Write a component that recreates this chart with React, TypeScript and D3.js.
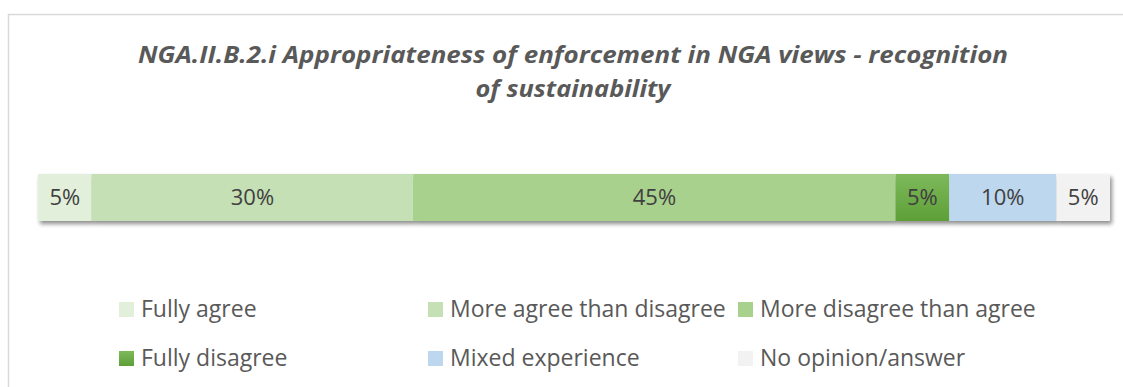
import React from "react";
import * as d3 from "d3";

const categories = [
  "Fully agree",
  "More agree than disagree",
  "More disagree than agree",
  "Fully disagree",
  "Mixed experience",
  "No opinion/answer",
];
const values = [5, 30, 45, 5, 10, 5];
const colors = ["#E2EFDA", "#C5E0B4", "#A9D18E", "url(#gradDark)", "#BDD7EE", "#F2F2F2"];
const titleLines = [
  "NGA.II.B.2.i Appropriateness of enforcement in NGA views - recognition",
  "of sustainability",
];
const titleWidths = [870, 195];

export default function App() {
  const W = 1123, H = 387;
  const x = d3.scaleLinear().domain([0, d3.sum(values)]).range([38, 1110]);
  const starts = values.map((_, i) => d3.sum(values.slice(0, i)));
  const barTop = 174, barH = 47;
  const legendCols = [119, 428, 738];
  const legendRows = [302, 351];
  const font = "'Open Sans', sans-serif";
  return (
    <svg width={W} height={H} style={{ position: "absolute", left: 0, top: 0 }} fontFamily={font}>
      <defs>
        <linearGradient id="gradDark" x1="0" y1="0" x2="0" y2="1">
          <stop offset="0" stopColor="#7DB95B" />
          <stop offset="1" stopColor="#5E9F37" />
        </linearGradient>
        <filter id="shadow" x="-5%" y="-50%" width="110%" height="200%">
          <feGaussianBlur in="SourceAlpha" stdDeviation="2" />
          <feOffset dx="2" dy="3" result="b" />
          <feComponentTransfer>
            <feFuncA type="linear" slope="0.45" />
          </feComponentTransfer>
          <feMerge>
            <feMergeNode />
            <feMergeNode in="SourceGraphic" />
          </feMerge>
        </filter>
      </defs>
      <rect x={0} y={0} width={W} height={H} fill="#fff" />
      <rect x={8.5} y={14.5} width={1200} height={500} fill="#fff" stroke="#D9D9D9" strokeWidth={1.5} />
      {titleLines.map((t, i) => (
        <text
          key={i}
          x={573}
          y={63 + i * 34}
          textAnchor="middle"
          fontStyle="italic"
          fontWeight="bold"
          fontSize={23}
          fill="#595959"
          textLength={titleWidths[i]}
          lengthAdjust="spacingAndGlyphs"
        >
          {t}
        </text>
      ))}
      <g filter="url(#shadow)">
        {values.map((v, i) => (
          <rect key={i} x={x(starts[i])} y={barTop} width={x(starts[i] + v) - x(starts[i])} height={barH} fill={colors[i]} />
        ))}
      </g>
      {values.map((v, i) => (
        <text
          key={i}
          x={(x(starts[i]) + x(starts[i] + v)) / 2}
          y={barTop + barH / 2}
          dy="0.36em"
          textAnchor="middle"
          fontSize={22}
          fill="#404040"
        >
          {v}%
        </text>
      ))}
      {categories.map((c, i) => {
        const lx = legendCols[i % 3];
        const ly = legendRows[Math.floor(i / 3)];
        return (
          <g key={c}>
            <rect x={lx} y={ly} width={15} height={15} fill={colors[i]} />
            <text x={lx + 22} y={ly + 15} fontSize={23} fill="#595959">
              {c}
            </text>
          </g>
        );
      })}
    </svg>
  );
}
